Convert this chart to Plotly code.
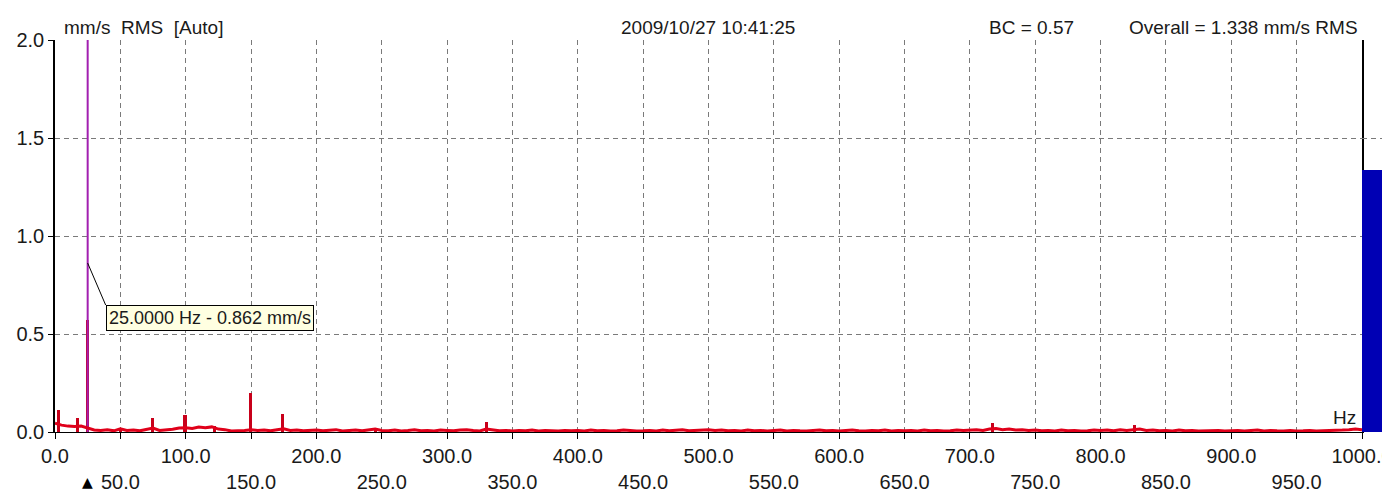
import plotly.graph_objects as go

# ---------------- data ----------------
floor_freq = [
    0, 5, 10, 15, 20, 25, 30, 35, 40, 45,
    50, 55, 60, 65, 70, 75, 80, 85, 90, 95,
    100, 105, 110, 115, 120, 125, 130, 135, 140, 145,
    150, 155, 160, 165, 170, 175, 180, 185, 190, 195,
    200, 205, 210, 215, 220, 225, 230, 235, 240, 245,
    250, 255, 260, 265, 270, 275, 280, 285, 290, 295,
    300, 305, 310, 315, 320, 325, 330, 335, 340, 345,
    350, 355, 360, 365, 370, 375, 380, 385, 390, 395,
    400, 405, 410, 415, 420, 425, 430, 435, 440, 445,
    450, 455, 460, 465, 470, 475, 480, 485, 490, 495,
    500, 505, 510, 515, 520, 525, 530, 535, 540, 545,
    550, 555, 560, 565, 570, 575, 580, 585, 590, 595,
    600, 605, 610, 615, 620, 625, 630, 635, 640, 645,
    650, 655, 660, 665, 670, 675, 680, 685, 690, 695,
    700, 705, 710, 715, 720, 725, 730, 735, 740, 745,
    750, 755, 760, 765, 770, 775, 780, 785, 790, 795,
    800, 805, 810, 815, 820, 825, 830, 835, 840, 845,
    850, 855, 860, 865, 870, 875, 880, 885, 890, 895,
    900, 905, 910, 915, 920, 925, 930, 935, 940, 945,
    950, 955, 960, 965, 970, 975, 980, 985, 990, 995,
    1000,
]
floor_amp = [
    0.045, 0.035, 0.030, 0.028, 0.030, 0.020, 0.010, 0.008, 0.012, 0.006,
    0.016, 0.008, 0.010, 0.006, 0.012, 0.020, 0.008, 0.010, 0.014, 0.020,
    0.022, 0.018, 0.025, 0.022, 0.026, 0.015, 0.012, 0.005, 0.006, 0.008,
    0.012, 0.008, 0.010, 0.006, 0.012, 0.016, 0.008, 0.010, 0.006, 0.008,
    0.010, 0.006, 0.008, 0.012, 0.005, 0.008, 0.010, 0.006, 0.012, 0.015,
    0.008, 0.006, 0.010, 0.005, 0.008, 0.012, 0.006, 0.008, 0.005, 0.010,
    0.008, 0.006, 0.010, 0.012, 0.008, 0.005, 0.015, 0.010, 0.006, 0.008,
    0.005, 0.008, 0.006, 0.010, 0.005, 0.008, 0.006, 0.005, 0.008, 0.006,
    0.008, 0.005, 0.010, 0.006, 0.008, 0.005, 0.006, 0.010, 0.008, 0.005,
    0.006, 0.008, 0.005, 0.010, 0.006, 0.008, 0.012, 0.006, 0.008, 0.010,
    0.012, 0.008, 0.010, 0.006, 0.008, 0.005, 0.010, 0.006, 0.008, 0.005,
    0.006, 0.010, 0.005, 0.008, 0.006, 0.005, 0.008, 0.010, 0.006, 0.008,
    0.005, 0.008, 0.010, 0.006, 0.005, 0.008, 0.006, 0.010, 0.005, 0.008,
    0.006, 0.008, 0.005, 0.010, 0.006, 0.008, 0.005, 0.006, 0.010, 0.008,
    0.010, 0.012, 0.008, 0.015, 0.018, 0.012, 0.015, 0.010, 0.012, 0.008,
    0.010, 0.006, 0.008, 0.005, 0.010, 0.006, 0.008, 0.005, 0.006, 0.010,
    0.008, 0.010, 0.006, 0.012, 0.008, 0.010, 0.015, 0.008, 0.010, 0.006,
    0.008, 0.005, 0.010, 0.006, 0.008, 0.005, 0.006, 0.010, 0.008, 0.005,
    0.006, 0.008, 0.005, 0.006, 0.010, 0.005, 0.008, 0.006, 0.005, 0.008,
    0.005, 0.006, 0.008, 0.005, 0.006, 0.005, 0.008, 0.010, 0.012, 0.015,
    0.012,
]

peak_freq = [2.5, 17.5, 25.0, 50.0, 74.5, 99.5, 122.0, 149.5, 174.0, 245.0, 330.0, 717.0, 826.0]
peak_amp = [0.11, 0.07, 0.57, 0.02, 0.07, 0.085, 0.03, 0.20, 0.09, 0.02, 0.05, 0.045, 0.035]

cursor_freq = 25.0
cursor_value = 0.862
overall_rms = 1.338

x_tick_vals = [0, 50, 100, 150, 200, 250, 300, 350, 400, 450, 500,
               550, 600, 650, 700, 750, 800, 850, 900, 950, 1000]
x_tick_text = ["0.0", " <br>50.0", "100.0", " <br>150.0", "200.0", " <br>250.0",
               "300.0", " <br>350.0", "400.0", " <br>450.0", "500.0", " <br>550.0",
               "600.0", " <br>650.0", "700.0", " <br>750.0", "800.0", " <br>850.0",
               "900.0", " <br>950.0", "1000.0"]
y_tick_vals = [0, 0.5, 1.0, 1.5, 2.0]
y_tick_text = ["0.0", "0.5", "1.0", "1.5", "2.0"]

header_unit = "mm/s  RMS  [Auto]"
header_time = "2009/10/27 10:41:25"
header_bc = "BC = 0.57"
header_overall = "Overall = 1.338 mm/s RMS"
cursor_label = "25.0000 Hz - 0.862 mm/s"

# ---------------- figure ----------------
FONT = "Liberation Sans, Arial, sans-serif"
W, H = 1382, 493
ML, MR, MT, MB = 55, 0, 40, 61
plot_w = W - ML - MR
main_end = 1307 / plot_w

fig = go.Figure()

# cursor line
fig.add_trace(go.Scatter(
    x=[cursor_freq, cursor_freq], y=[0, 2.0], mode="lines",
    line=dict(color="#a21fb0", width=2), hoverinfo="skip", showlegend=False,
))

# spectrum floor
fig.add_trace(go.Scatter(
    x=floor_freq, y=floor_amp, mode="lines",
    line=dict(color="#e0001a", width=3), hoverinfo="skip", showlegend=False,
))

# spectral peaks
fig.add_trace(go.Bar(
    x=peak_freq, y=peak_amp, width=2.4,
    marker=dict(color="#c8001a", line=dict(width=0)),
    hoverinfo="skip", showlegend=False,
))

# overall level bar
fig.add_trace(go.Bar(
    x=[0], y=[overall_rms], width=1.0, xaxis="x2", yaxis="y",
    marker=dict(color="#0000b4", line=dict(width=0)),
    hoverinfo="skip", showlegend=False,
))

grid = dict(showgrid=True, gridcolor="#7a7a7a", gridwidth=1, griddash="5px,4px")

fig.update_layout(
    width=W, height=H,
    margin=dict(l=ML, r=MR, t=MT, b=MB, pad=0),
    paper_bgcolor="white", plot_bgcolor="white",
    font=dict(family=FONT, size=20, color="#1a1a1a"),
    bargap=0,
    xaxis=dict(
        domain=[0, main_end], range=[0, 1000],
        tickmode="array", tickvals=x_tick_vals, ticktext=x_tick_text,
        ticks="outside", ticklen=6, tickcolor="black", tickwidth=1,
        showline=True, linecolor="black", linewidth=1, mirror=False,
        zeroline=False, layer="below traces",
        tickfont=dict(family=FONT, size=20, color="#1a1a1a"),
        ticklabeloverflow="allow", automargin=False, fixedrange=True,
        **grid,
    ),
    yaxis=dict(
        range=[0, 2.0],
        tickmode="array", tickvals=y_tick_vals, ticktext=y_tick_text,
        ticks="outside", ticklen=5, tickcolor="black", tickwidth=1,
        showline=True, linecolor="black", linewidth=1.5, mirror=True,
        zeroline=False, layer="below traces",
        tickfont=dict(family=FONT, size=20, color="#1a1a1a"),
        automargin=False, fixedrange=True,
        **grid,
    ),
    xaxis2=dict(
        domain=[main_end, 1], anchor="y", range=[-0.5, 0.5],
        visible=False, fixedrange=True,
    ),
)

# header texts
hdr = dict(xref="paper", yref="paper", y=1, yanchor="bottom", showarrow=False,
           font=dict(family=FONT, size=19, color="#1a1a1a"))
fig.add_annotation(text=header_unit, x=(62 - ML) / plot_w, xanchor="left", **hdr)
fig.add_annotation(text=header_time, x=(708 - ML) / plot_w, xanchor="center", **hdr)
fig.add_annotation(text=header_bc, x=(1076 - ML) / plot_w, xanchor="right", **hdr)
fig.add_annotation(text=header_overall, x=(1360 - ML) / plot_w, xanchor="right", **hdr)

# Hz unit label
fig.add_annotation(text="Hz", xref="x domain", yref="y domain", x=1, y=0,
                   xanchor="right", yanchor="bottom", xshift=-4, yshift=2,
                   showarrow=False, font=dict(family=FONT, size=19, color="#1a1a1a"))

# cursor readout
fig.add_annotation(
    text=cursor_label, x=cursor_freq, y=cursor_value, xref="x", yref="y",
    showarrow=True, arrowhead=0, arrowwidth=1, arrowcolor="black",
    ax=18, ay=42, xanchor="left", yanchor="top",
    bgcolor="#ffffe1", bordercolor="black", borderwidth=1, borderpad=2,
    font=dict(family=FONT, size=18, color="#1a1a1a"),
)

# cursor marker below the axis
fig.add_annotation(text="\u25b2", x=cursor_freq, xref="x", yref="paper", y=0,
                   yanchor="middle", yshift=-50, showarrow=False,
                   font=dict(family="DejaVu Sans", size=14, color="black"))

fig.write_html("out.html", config={"displayModeBar": False},
               post_script="document.body.style.margin='0';")
